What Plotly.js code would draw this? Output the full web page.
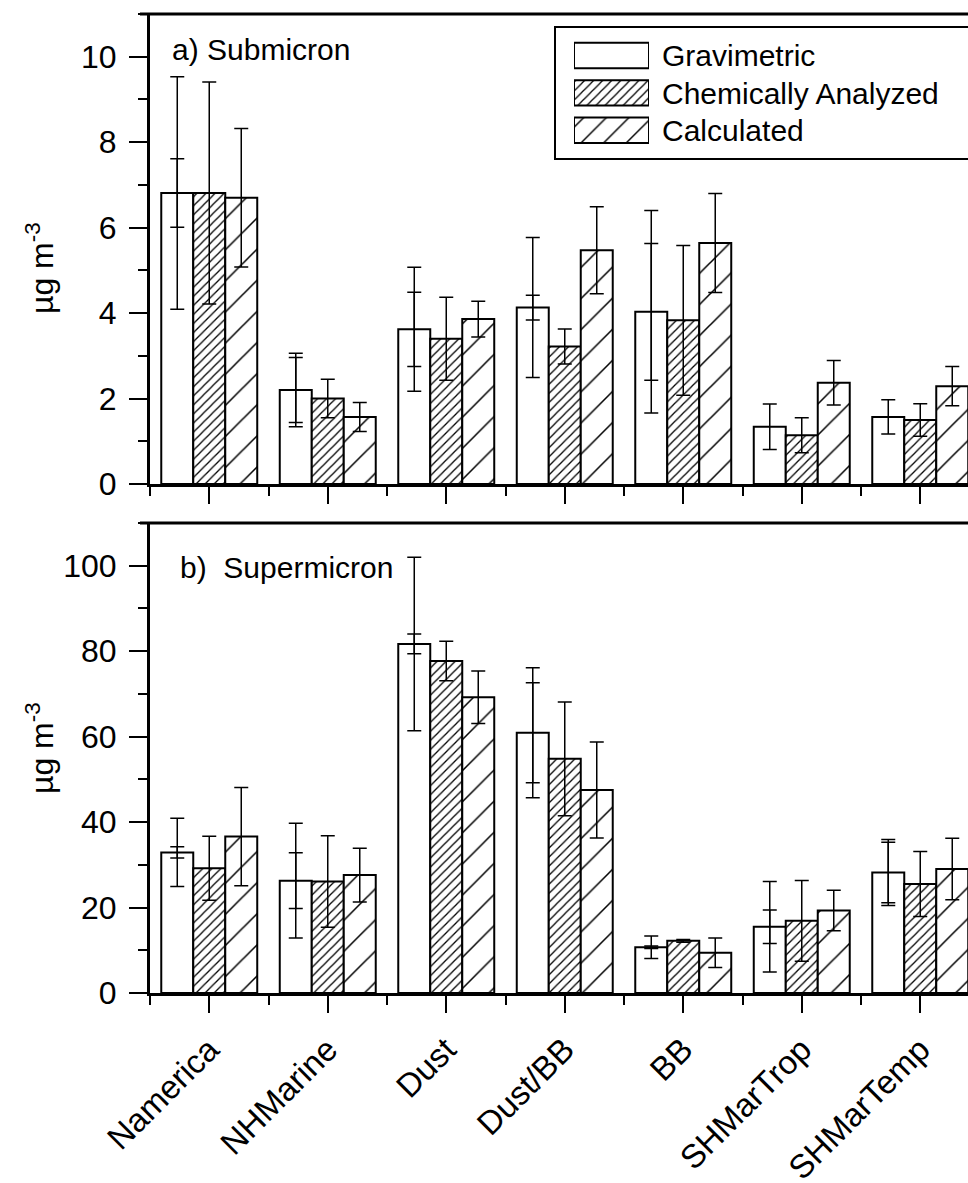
<!DOCTYPE html>
<html><head><meta charset="utf-8">
<script src="https://cdn.plot.ly/plotly-3.0.1.min.js"></script>
<style>html,body{margin:0;padding:0;background:#fff}</style>
</head><body><div id="chart" style="width:968px;height:1183px"></div>
<script>
// ---- data ----
const categories = ['Namerica', 'NHMarine', 'Dust', 'Dust/BB', 'BB', 'SHMarTrop', 'SHMarTemp'];
const seriesNames = ['Gravimetric', 'Chemically Analyzed', 'Calculated'];

// a) Submicron (µg m-3)
const subGrav = [6.81, 2.20, 3.62, 4.13, 4.03, 1.34, 1.57];
const subGravErr = [2.72, 0.86, 1.45, 1.64, 2.37, 0.53, 0.40];
const subGravErrInner = [0.80, 0.76, 0.87, 0.29, 1.60, NaN, NaN];
const subChem = [6.81, 2.00, 3.40, 3.22, 3.83, 1.14, 1.50];
const subChemErr = [2.60, 0.45, 0.97, 0.41, 1.75, 0.41, 0.38];
const subCalc = [6.70, 1.57, 3.86, 5.47, 5.64, 2.37, 2.29];
const subCalcErr = [1.62, 0.34, 0.42, 1.02, 1.16, 0.52, 0.46];

// b) Supermicron (µg m-3)
const supGrav = [32.9, 26.3, 81.7, 60.9, 10.7, 15.5, 28.2];
const supGravErr = [8.0, 13.4, 20.3, 15.2, 2.65, 10.6, 7.7];
const supGravErrInner = [1.3, 6.5, 2.3, 11.7, 0.3, 3.9, 7.1];
const supChem = [29.2, 26.1, 77.7, 54.8, 12.2, 16.9, 25.5];
const supChemErr = [7.5, 10.7, 4.6, 13.3, 0.3, 9.45, 7.6];
const supCalc = [36.6, 27.6, 69.2, 47.5, 9.4, 19.3, 29.0];
const supCalcErr = [11.5, 6.3, 6.15, 11.25, 3.45, 4.75, 7.2];

// ---- layout helpers (pixel -> paper) ----
const W = 968, H = 1183, ML = 150, MR = 0, MT = 14, MB = 190;
const PW = W - ML - MR, PH = H - MT - MB;
const px = v => (v - ML) / PW;
const py = v => (H - MB - v) / PH;

const FONT = 'Liberation Sans, Arial, Helvetica, sans-serif';
const xIdx = categories.map((_, i) => i);

const patterns = [
  {shape: '', fgcolor: 'black', bgcolor: 'white'},
  {shape: '/', size: 6.4, solidity: 0.2, fgcolor: 'black', bgcolor: 'white'},
  {shape: '/', size: 22, solidity: 0.07, fgcolor: 'black', bgcolor: 'white'}
];

function errObj(arr) {
  return {type: 'data', array: arr, visible: true, color: 'black', thickness: 1.5, width: 7};
}
function barTrace(y, err, k, xa, ya) {
  return {type: 'bar', x: xIdx, y: y, xaxis: xa, yaxis: ya, offsetgroup: 'g' + k,
    name: seriesNames[k], showlegend: false, hoverinfo: 'skip',
    marker: {color: 'white', line: {color: 'black', width: 2}, pattern: patterns[k]},
    error_y: errObj(err)};
}
function innerTrace(y, err, k, xa, ya) {
  return {type: 'bar', x: xIdx, y: y, xaxis: xa, yaxis: ya, offsetgroup: 'g' + k,
    showlegend: false, hoverinfo: 'skip',
    marker: {color: 'rgba(0,0,0,0)', line: {width: 0}},
    error_y: errObj(err)};
}

const traces = [
  barTrace(subGrav, subGravErr, 0, 'x', 'y'),
  barTrace(subChem, subChemErr, 1, 'x', 'y'),
  barTrace(subCalc, subCalcErr, 2, 'x', 'y'),
  innerTrace(subGrav, subGravErrInner, 0, 'x', 'y'),
  barTrace(supGrav, supGravErr, 0, 'x2', 'y2'),
  barTrace(supChem, supChemErr, 1, 'x2', 'y2'),
  barTrace(supCalc, supCalcErr, 2, 'x2', 'y2'),
  innerTrace(supGrav, supGravErrInner, 0, 'x2', 'y2'),
  // legend swatches
  {type: 'bar', orientation: 'h', y: [0, 1, 2], x: [1, 1, 1], base: 0, width: 0.68,
    xaxis: 'x3', yaxis: 'y3', showlegend: false, hoverinfo: 'skip',
    marker: {color: 'white', line: {color: 'black', width: 2},
      pattern: {shape: ['', '/', '/'], size: [8, 6.4, 16], solidity: [0.2, 0.2, 0.09],
        fgcolor: 'black', bgcolor: 'white'}}}
];

const yTickFont = {family: FONT, size: 32, color: 'black'};
const xTickFont = {family: FONT, size: 33, color: 'black'};
function xAxis(anchor, labels) {
  return {anchor: anchor, domain: [0, 1], type: 'linear', range: [-0.5, -0.5 + PW / 118.5],
    tickmode: 'array', tickvals: xIdx, ticktext: categories, showticklabels: labels,
    tickangle: -45, tickfont: xTickFont, ticks: 'outside', ticklen: 17, tickwidth: 2, tickcolor: 'black',
    ticklabelstandoff: 4,
    minor: {tickmode: 'linear', tick0: 0.5, dtick: 1, ticks: 'outside', ticklen: 9, tickwidth: 2, tickcolor: 'black'},
    showline: true, linewidth: 3, linecolor: 'black', showgrid: false, zeroline: false, fixedrange: true};
}
function yAxis(anchor, domain, range, dtick) {
  return {anchor: anchor, domain: domain, range: range, tickmode: 'linear', tick0: 0, dtick: dtick,
    tickfont: yTickFont, ticks: 'outside', ticklen: 18, tickwidth: 2, tickcolor: 'black',
    minor: {tickmode: 'linear', tick0: 0, dtick: dtick / 2, ticks: 'outside', ticklen: 9, tickwidth: 2, tickcolor: 'black'},
    showline: true, linewidth: 3, linecolor: 'black', showgrid: false, zeroline: false, fixedrange: true,
    ticklabelstandoff: 6};
}

const topDom = [py(484), 1];
const botDom = [0, py(523)];

const legRows = [55.5, 93, 130.3];
const layout = {
  width: W, height: H, margin: {l: ML, r: MR, t: MT, b: MB, pad: 0},
  paper_bgcolor: 'white', plot_bgcolor: 'white',
  font: {family: FONT, size: 30, color: 'black'},
  barmode: 'group', bargap: 0.19, bargroupgap: 0,
  showlegend: false,
  xaxis: xAxis('y', false),
  yaxis: yAxis('x', topDom, [0, 11], 2),
  xaxis2: xAxis('y2', true),
  yaxis2: yAxis('x2', botDom, [0, 110], 20),
  xaxis3: {anchor: 'y3', domain: [px(574), px(649)], range: [0, 1], visible: false, fixedrange: true},
  yaxis3: {anchor: 'x3', domain: [py(legRows[2] + 18.7), py(legRows[0] - 18.7)], range: [2.5, -0.5],
    visible: false, fixedrange: true},
  shapes: [
    {type: 'line', xref: 'paper', yref: 'paper', x0: px(140), x1: 1, y0: 1, y1: 1, line: {color: 'black', width: 3}},
    {type: 'line', xref: 'paper', yref: 'paper', x0: px(140), x1: 1, y0: py(523), y1: py(523), line: {color: 'black', width: 3}},
    {type: 'rect', xref: 'paper', yref: 'paper', x0: px(555), x1: px(972), y0: py(159), y1: py(27),
      line: {color: 'black', width: 2}, fillcolor: 'rgba(0,0,0,0)'}
  ],
  annotations: [
    {text: 'a) Submicron', xref: 'paper', yref: 'paper', x: px(170), y: py(50), xanchor: 'left', yanchor: 'middle',
      showarrow: false, font: {family: FONT, size: 30, color: 'black'}},
    {text: 'b)\u00a0 Supermicron', xref: 'paper', yref: 'paper', x: px(178), y: py(567), xanchor: 'left', yanchor: 'middle',
      showarrow: false, font: {family: FONT, size: 30, color: 'black'}},
    {text: 'µg m<sup>-3</sup>', xref: 'paper', yref: 'paper', x: px(40), y: py(268), xanchor: 'center', yanchor: 'middle',
      textangle: -90, showarrow: false, font: {family: FONT, size: 32, color: 'black'}},
    {text: 'µg m<sup>-3</sup>', xref: 'paper', yref: 'paper', x: px(40), y: py(748), xanchor: 'center', yanchor: 'middle',
      textangle: -90, showarrow: false, font: {family: FONT, size: 32, color: 'black'}}
  ].concat(seriesNames.map((n, i) => ({
    text: n, xref: 'paper', yref: 'paper', x: px(660), y: py(legRows[i]), xanchor: 'left', yanchor: 'middle',
    showarrow: false, font: {family: FONT, size: 30, color: 'black'}
  })))
};

Plotly.newPlot('chart', traces, layout, {staticPlot: true, displayModeBar: false});
</script>
</body></html>
